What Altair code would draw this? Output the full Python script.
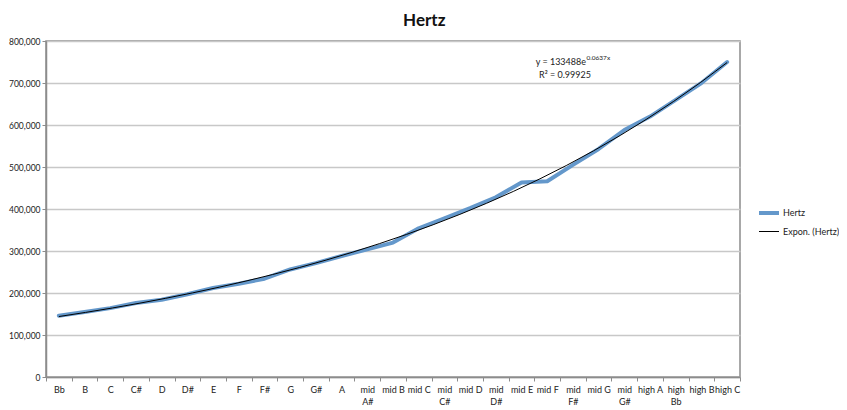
import altair as alt
import pandas as pd

notes = ["Bb", "B", "C", "C#", "D", "D#", "E", "F", "F#", "G", "G#", "A",
         "mid A#", "mid B", "mid C", "mid C#", "mid D", "mid D#", "mid E",
         "mid F", "mid F#", "mid G", "mid G#", "high A", "high Bb", "high B", "high C"]
hertz = [146000, 155000, 164000, 176000, 184000, 197000, 212000, 222000, 234000,
         256000, 271000, 288000, 304000, 320000, 354000, 378000, 402000, 428000,
         463000, 466000, 505000, 543000, 588000, 620000, 660000, 700000, 750000]
series_names = ["Hertz", "Expon. (Hertz)"]
y_ticks = [0, 100000, 200000, 300000, 400000, 500000, 600000, 700000, 800000]
equation_main = "y = 133488e"
equation_exp = "0.0637x"
r_squared = "R² = 0.99925"

df = pd.DataFrame({"note": notes, "Hertz": hertz, "idx": list(range(1, len(notes) + 1))})

FONT = "Lato"
W, H = 694, 336
AXIS_GRAY = "#8c8c8c"
TXT = "#222222"

legend = alt.Legend(title=None, orient="none", legendX=711, legendY=160,
                    symbolType="stroke", symbolSize=400, labelFont=FONT,
                    labelFontSize=9, labelColor=TXT, rowPadding=0, labelOffset=2,
                    labelLimit=200)
color = alt.Color("series:N", scale=alt.Scale(domain=series_names, range=["#6498cb", "#000000"]),
                  legend=legend)
sw = alt.StrokeWidth("series:N", scale=alt.Scale(domain=series_names, range=[4, 1]),
                     legend=legend)

y_scale = alt.Scale(domain=[0, 800000], nice=False)
y_axis = alt.Axis(values=y_ticks, format=",.0f", formatType="number", title=None, grid=True,
                  gridColor="#c8c8c8", gridWidth=1.5, domainColor=AXIS_GRAY, domainWidth=1.5,
                  tickColor=AXIS_GRAY, tickSize=4, labelPadding=2, labelFont=FONT,
                  labelFontSize=8.5, labelColor=TXT)

label_expr = ("indexof(datum.label, ' ') > 0 && (indexof(datum.label, '#') > 0 || "
              "indexof(datum.label, 'Bb') > 0) ? split(datum.label, ' ') : datum.label")

line = alt.Chart(df).transform_calculate(series="'Hertz'").mark_line(
    strokeJoin="round", strokeCap="round"
).encode(
    x=alt.X("note:N", sort=notes, bandPosition=0.5,
            scale=alt.Scale(type="band", paddingInner=0, paddingOuter=0),
            axis=alt.Axis(title=None, labelAngle=0, tickBand="extent", labelExpr=label_expr,
                          labelFont=FONT, labelFontSize=9, labelColor=TXT,
                          domainColor=AXIS_GRAY, domainWidth=1.5, tickColor=AXIS_GRAY,
                          tickSize=4, labelPadding=4, labelLineHeight=12, grid=False)),
    y=alt.Y("Hertz:Q", scale=y_scale, axis=y_axis),
    color=color,
    strokeWidth=sw,
)

trend = alt.Chart(df).transform_regression(
    "idx", "Hertz", method="exp"
).transform_calculate(series="'Expon. (Hertz)'").mark_line().encode(
    x=alt.X("idx:Q", scale=alt.Scale(domain=[0.5, len(notes) + 0.5], nice=False, zero=False),
            axis=None),
    y=alt.Y("Hertz:Q", scale=y_scale, axis=y_axis),
    color=color,
    strokeWidth=sw,
)

eq_main = alt.Chart(pd.DataFrame({"t": [equation_main]})).mark_text(
    align="right", baseline="middle", font=FONT, fontSize=9, color=TXT
).encode(x=alt.value(540), y=alt.value(21), text="t:N")
eq_exp = alt.Chart(pd.DataFrame({"t": [equation_exp]})).mark_text(
    align="left", baseline="middle", font=FONT, fontSize=6.5, color=TXT
).encode(x=alt.value(540.5), y=alt.value(17), text="t:N")
eq_r2 = alt.Chart(pd.DataFrame({"t": [r_squared]})).mark_text(
    align="center", baseline="middle", font=FONT, fontSize=9, color=TXT
).encode(x=alt.value(519), y=alt.value(34), text="t:N")

chart = alt.layer(line, trend, eq_main, eq_exp, eq_r2).resolve_scale(
    x="independent"
).properties(
    width=W, height=H,
    title=alt.TitleParams("Hertz", font=FONT, fontSize=17, fontWeight="bold",
                          anchor="middle", frame="bounds", offset=7, color="#111111"),
    autosize=alt.AutoSizeParams(type="none"),
    padding={"left": 38, "top": 33, "right": 99, "bottom": 31},
    background="white",
).configure_view(stroke=AXIS_GRAY, strokeWidth=1.5)

chart.save("out.html", embed_options={"renderer": "svg", "actions": False})
